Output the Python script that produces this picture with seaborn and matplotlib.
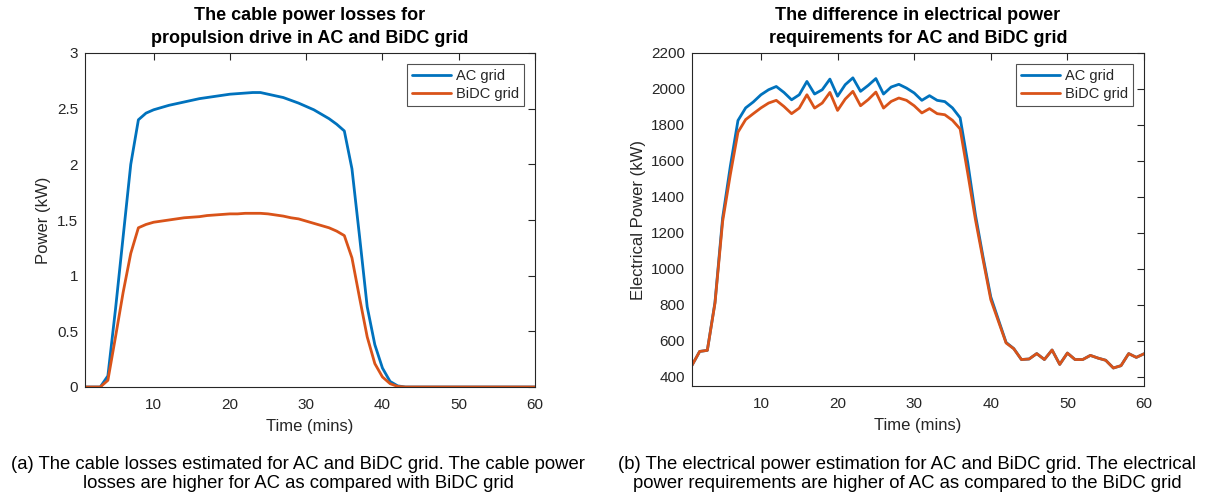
import numpy as np
import pandas as pd
import matplotlib
matplotlib.use("Agg")
import matplotlib.pyplot as plt
import seaborn as sns

# Time axis (minutes)
time_min = list(range(1, 61))

# Cable power losses for the propulsion drive (kW)
loss_ac = [0, 0, 0, 0.10, 0.70, 1.35, 2.00, 2.40, 2.46, 2.49,
           2.51, 2.53, 2.545, 2.56, 2.575, 2.59, 2.60, 2.61, 2.62, 2.63,
           2.635, 2.64, 2.645, 2.645, 2.63, 2.615, 2.60, 2.575, 2.55, 2.52,
           2.49, 2.45, 2.41, 2.36, 2.30, 1.96, 1.35, 0.72, 0.38, 0.17,
           0.05, 0.01, 0, 0, 0, 0, 0, 0, 0, 0,
           0, 0, 0, 0, 0, 0, 0, 0, 0, 0]
loss_bidc = [0, 0, 0, 0.06, 0.45, 0.85, 1.20, 1.43, 1.46, 1.48,
             1.49, 1.50, 1.51, 1.52, 1.525, 1.53, 1.54, 1.545, 1.55, 1.555,
             1.555, 1.56, 1.56, 1.56, 1.555, 1.545, 1.535, 1.52, 1.51, 1.49,
             1.47, 1.45, 1.43, 1.40, 1.36, 1.16, 0.80, 0.45, 0.21, 0.09,
             0.03, 0.005, 0, 0, 0, 0, 0, 0, 0, 0,
             0, 0, 0, 0, 0, 0, 0, 0, 0, 0]

# Electrical power requirements (kW)
power_ac = [465, 542, 548, 815, 1285, 1570, 1825, 1895, 1928, 1968,
            1996, 2014, 1981, 1940, 1968, 2042, 1972, 1996, 2055, 1960,
            2024, 2062, 1987, 2020, 2058, 1972, 2011, 2026, 2005, 1978,
            1937, 1963, 1937, 1930, 1895, 1840, 1590, 1300, 1065, 845,
            718, 592, 558, 497, 500, 530, 497, 550, 470, 533,
            497, 497, 520, 505, 493, 450, 463, 530, 509, 529]
power_bidc = [465, 542, 548, 810, 1265, 1524, 1760, 1830, 1863, 1895,
              1922, 1937, 1903, 1863, 1894, 1968, 1894, 1922, 1981, 1881,
              1944, 1987, 1907, 1941, 1983, 1894, 1931, 1950, 1937, 1907,
              1867, 1891, 1863, 1857, 1826, 1778, 1530, 1274, 1050, 830,
              709, 589, 557, 497, 500, 530, 497, 550, 470, 533,
              497, 497, 520, 505, 493, 450, 463, 530, 509, 529]

grids = ["AC grid", "BiDC grid"]
colors = {"AC grid": "#0072BD", "BiDC grid": "#D95319"}

left_ticks = [0, 0.5, 1, 1.5, 2, 2.5, 3]
left_ticklabels = ["0", "0.5", "1", "1.5", "2", "2.5", "3"]
right_ticks = [400, 600, 800, 1000, 1200, 1400, 1600, 1800, 2000, 2200]
x_ticks = [10, 20, 30, 40, 50, 60]

sns.set_style("white")
plt.rcParams["font.family"] = ["Liberation Sans", "DejaVu Sans"]
plt.rcParams["axes.linewidth"] = 0.8

loss_df = pd.DataFrame({
    "Time": time_min * 2,
    "Power": loss_ac + loss_bidc,
    "Grid": [grids[0]] * 60 + [grids[1]] * 60,
})
power_df = pd.DataFrame({
    "Time": time_min * 2,
    "Power": power_ac + power_bidc,
    "Grid": [grids[0]] * 60 + [grids[1]] * 60,
})

W, H = 1211, 495
fig = plt.figure(figsize=(W / 100, H / 100), dpi=100)
ax1 = fig.add_axes([85 / W, 1 - 387 / H, 450 / W, 334 / H])
ax2 = fig.add_axes([692 / W, 1 - 386 / H, 452 / W, 333 / H])

axis_color = "#262626"


def style_axes(ax, ylim, yticks, yticklabels, ylabel, title):
    ax.set_xlim(1, 60)
    ax.set_ylim(*ylim)
    ax.set_xticks(x_ticks)
    ax.set_yticks(yticks)
    if yticklabels is not None:
        ax.set_yticklabels(yticklabels)
    ax.tick_params(direction="in", length=5, width=0.8, top=True, right=True,
                   labelsize=11, colors=axis_color)
    ax.tick_params(axis="x", pad=8)
    ax.tick_params(axis="y", pad=5)
    for s in ax.spines.values():
        s.set_visible(True)
        s.set_color(axis_color)
        s.set_linewidth(0.8)
    ax.set_xlabel("Time (mins)", fontsize=12, color=axis_color, labelpad=5)
    ax.set_ylabel(ylabel, fontsize=12, color=axis_color, labelpad=4)
    ax.set_title(title, fontsize=13, fontweight="bold", color="black", pad=7,
                 linespacing=1.5)
    leg = ax.legend(loc="upper right", fontsize=10.5, frameon=True,
                    fancybox=False, edgecolor=axis_color, handlelength=2.7,
                    handletextpad=0.3, borderpad=0.35, labelspacing=0.25,
                    borderaxespad=0.75)
    leg.get_frame().set_linewidth(0.8)
    for line in leg.get_lines():
        line.set_linewidth(2)


sns.lineplot(data=loss_df, x="Time", y="Power", hue="Grid", hue_order=grids,
             palette=colors, linewidth=2, ax=ax1)
style_axes(ax1, (0, 3), left_ticks, left_ticklabels, "Power (kW)",
           "The cable power losses for\npropulsion drive in AC and BiDC grid")

sns.lineplot(data=power_df, x="Time", y="Power", hue="Grid", hue_order=grids,
             palette=colors, linewidth=2, ax=ax2)
style_axes(ax2, (350, 2200), right_ticks, None, "Electrical Power (kW)",
           "The difference in electrical power\nrequirements for AC and BiDC grid")

fig.text(298 / W, 1 - 474 / H,
         "(a) The cable losses estimated for AC and BiDC grid. The cable power\n"
         "losses are higher for AC as compared with BiDC grid",
         ha="center", va="center", fontsize=13.3, linespacing=1.2, color="black")
fig.text(907 / W, 1 - 474 / H,
         "(b) The electrical power estimation for AC and BiDC grid. The electrical\n"
         "power requirements are higher of AC as compared to the BiDC grid",
         ha="center", va="center", fontsize=13.3, linespacing=1.2, color="black")

fig.savefig("out.png", dpi=100, facecolor="white")
